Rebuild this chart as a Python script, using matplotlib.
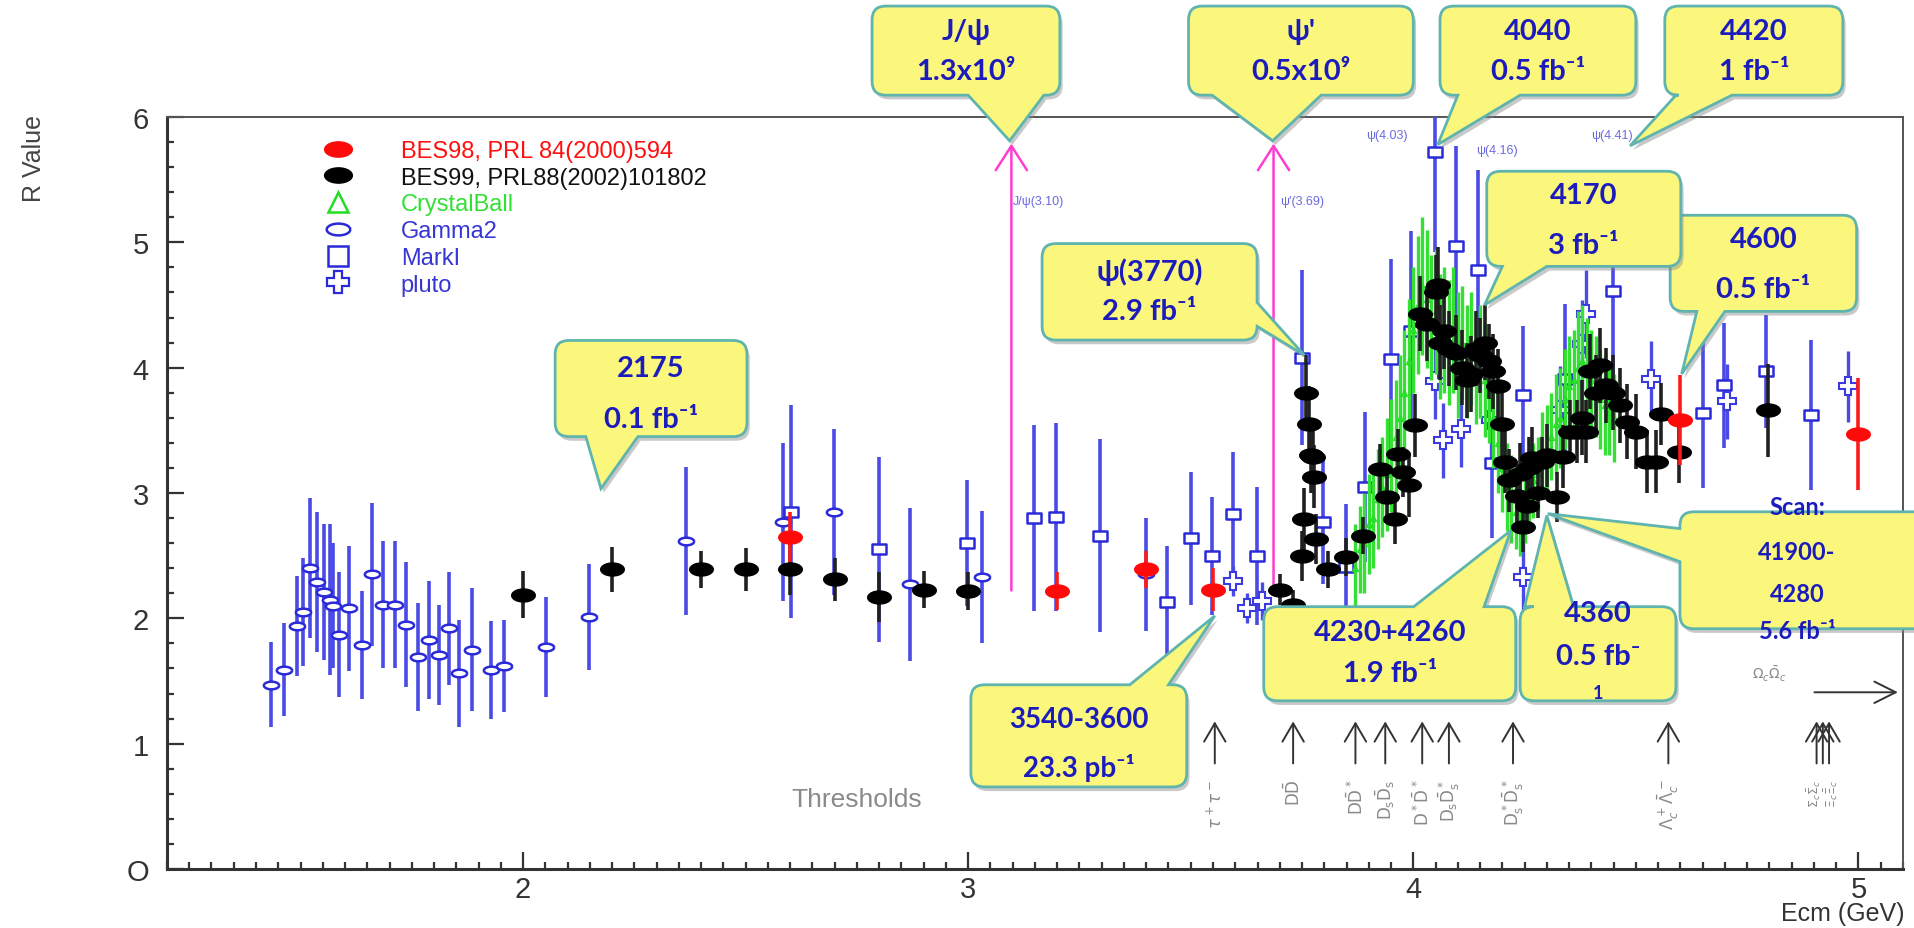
import numpy as np
import matplotlib
matplotlib.use('Agg')
import matplotlib.pyplot as plt
import matplotlib.patheffects as pe
from matplotlib.path import Path
from matplotlib.patches import PathPatch
from matplotlib.lines import Line2D
from matplotlib.ticker import MultipleLocator

plt.rcParams['font.family'] = ['Liberation Sans', 'DejaVu Sans']

# ---- data (Ecm in GeV, R, error) ----
bes98_e = [2.60, 3.20, 3.40, 3.55, 4.60, 5.00]
bes98_r = [2.65, 2.22, 2.39, 2.23, 3.58, 3.47]
bes98_err = [0.20, 0.15, 0.15, 0.17, 0.36, 0.45]

bes99_e = [2.00, 2.20, 2.40, 2.50, 2.60, 2.70, 2.80, 2.90, 3.00,
           3.70, 3.73, 3.749, 3.754, 3.760, 3.766, 3.771, 3.775, 3.778, 3.781,
           3.809, 3.848, 3.888, 3.925, 3.940, 3.958, 3.966, 3.977, 3.990, 4.004,
           4.015, 4.030, 4.050, 4.056, 4.060, 4.070, 4.080, 4.097, 4.110, 4.120,
           4.130, 4.140, 4.150, 4.160, 4.170, 4.180, 4.190, 4.200, 4.206, 4.215,
           4.232, 4.240, 4.247, 4.255, 4.260, 4.267, 4.280, 4.290, 4.300, 4.322,
           4.337, 4.352, 4.367, 4.380, 4.389, 4.397, 4.410, 4.419, 4.434, 4.449,
           4.464, 4.479, 4.501, 4.524, 4.546, 4.557, 4.598, 4.797]
bes99_r = [2.19, 2.39, 2.39, 2.39, 2.39, 2.31, 2.17, 2.23, 2.22,
           2.23, 2.11, 2.50, 2.79, 3.80, 3.55, 3.30, 3.29, 3.13, 2.63,
           2.39, 2.49, 2.66, 3.19, 2.97, 2.79, 3.31, 3.17, 3.06, 3.54,
           4.43, 4.35, 4.60, 4.66, 4.20, 4.29, 4.15, 4.12, 4.00, 3.90,
           3.95, 4.15, 4.10, 4.20, 4.05, 3.97, 3.85, 3.55, 3.25, 3.10,
           2.98, 3.15, 2.73, 2.90, 3.20, 3.28, 3.00, 3.25, 3.30, 2.97,
           3.29, 3.49, 3.49, 3.60, 3.49, 3.97, 3.80, 4.02, 3.86, 3.80,
           3.70, 3.57, 3.49, 3.25, 3.25, 3.63, 3.33, 3.66]
bes99_err = [0.19, 0.18, 0.15, 0.17, 0.20, 0.17, 0.20, 0.15, 0.15,
             0.12, 0.12, 0.20, 0.25, 0.30, 0.30, 0.30, 0.25, 0.25, 0.20,
             0.15, 0.15, 0.15, 0.20, 0.20, 0.20, 0.20, 0.20, 0.25, 0.25,
             0.30, 0.30, 0.30, 0.30, 0.30, 0.30, 0.30, 0.30, 0.30, 0.30,
             0.30, 0.30, 0.30, 0.30, 0.30, 0.30, 0.30, 0.30, 0.25, 0.25,
             0.25, 0.25, 0.20, 0.20, 0.25, 0.25, 0.20, 0.20, 0.25, 0.20,
             0.25, 0.25, 0.25, 0.30, 0.25, 0.30, 0.30, 0.30, 0.30, 0.30,
             0.30, 0.30, 0.30, 0.25, 0.25, 0.25, 0.25, 0.37]

cball_e = [3.87, 3.88, 3.89, 3.90, 3.91, 3.92, 3.93, 3.94, 3.95, 3.96,
           3.97, 3.98, 3.99, 4.00, 4.01, 4.02, 4.03, 4.04, 4.05, 4.06,
           4.07, 4.08, 4.09, 4.10, 4.11, 4.12, 4.13, 4.14, 4.15, 4.16,
           4.17, 4.18, 4.19, 4.20, 4.21, 4.22, 4.23, 4.24, 4.25, 4.26,
           4.27, 4.28, 4.29, 4.30, 4.31, 4.32, 4.33, 4.34, 4.35, 4.36,
           4.37, 4.38, 4.39, 4.40, 4.41, 4.42, 4.43, 4.44, 4.45]
cball_r = [2.40, 2.55, 2.60, 2.75, 2.80, 2.95, 3.05, 3.15, 3.30, 3.45,
           3.60, 3.80, 4.05, 4.30, 4.50, 4.65, 4.55, 4.40, 4.45, 4.25,
           4.30, 4.20, 4.30, 4.10, 4.20, 4.05, 4.15, 4.00, 4.05, 3.90,
           3.80, 3.60, 3.40, 3.20, 3.05, 2.95, 2.85, 2.80, 2.90, 3.00,
           3.10, 3.15, 3.30, 3.35, 3.45, 3.55, 3.60, 3.75, 3.85, 3.90,
           4.00, 4.05, 3.95, 3.90, 3.85, 3.75, 3.70, 3.65, 3.60]
cball_err = [0.35, 0.35, 0.40, 0.40, 0.40, 0.40, 0.40, 0.45, 0.45, 0.45,
             0.50, 0.50, 0.50, 0.50, 0.55, 0.55, 0.55, 0.50, 0.50, 0.50,
             0.50, 0.50, 0.50, 0.50, 0.45, 0.45, 0.45, 0.45, 0.45, 0.45,
             0.40, 0.40, 0.40, 0.35, 0.35, 0.35, 0.30, 0.30, 0.30, 0.30,
             0.30, 0.30, 0.35, 0.35, 0.35, 0.40, 0.40, 0.40, 0.40, 0.40,
             0.45, 0.45, 0.45, 0.40, 0.40, 0.40, 0.40, 0.35, 0.35]

gamma2_e = [1.433, 1.462, 1.491, 1.506, 1.522, 1.538, 1.552, 1.567, 1.574, 1.587,
            1.610, 1.638, 1.661, 1.686, 1.713, 1.737, 1.763, 1.789, 1.810, 1.834,
            1.856, 1.886, 1.927, 1.958, 2.051, 2.149, 2.367, 2.585, 2.698, 2.869,
            3.032, 3.40]
gamma2_r = [1.47, 1.59, 1.94, 2.05, 2.40, 2.29, 2.21, 2.15, 2.10, 1.87,
            2.08, 1.79, 2.35, 2.11, 2.11, 1.95, 1.69, 1.83, 1.71, 1.92,
            1.56, 1.75, 1.59, 1.62, 1.77, 2.01, 2.62, 2.77, 2.85, 2.27,
            2.33, 2.35]
gamma2_err = [0.34, 0.37, 0.40, 0.43, 0.56, 0.56, 0.54, 0.60, 0.50, 0.50,
              0.50, 0.43, 0.57, 0.51, 0.51, 0.50, 0.43, 0.47, 0.40, 0.45,
              0.43, 0.49, 0.39, 0.37, 0.40, 0.42, 0.59, 0.63, 0.66, 0.61,
              0.53, 0.45]

marki_e = [2.601, 2.80, 2.997, 3.148, 3.198, 3.297, 3.447, 3.50, 3.548, 3.595,
           3.649, 3.749, 3.797, 3.848, 3.891, 3.949, 3.994, 4.049, 4.096, 4.145,
           4.176, 4.247, 4.341, 4.449, 4.65, 4.697, 4.793, 4.894]
marki_r = [2.85, 2.55, 2.60, 2.80, 2.81, 2.66, 2.13, 2.64, 2.50, 2.83,
           2.50, 4.08, 2.77, 2.41, 3.05, 4.07, 4.29, 5.72, 4.97, 4.78,
           3.24, 3.78, 3.91, 4.61, 3.64, 3.86, 3.97, 3.62]
marki_err = [0.85, 0.74, 0.50, 0.74, 0.75, 0.77, 0.45, 0.53, 0.47, 0.50,
             0.55, 0.70, 0.50, 0.50, 0.60, 0.80, 0.80, 0.80, 0.80, 0.80,
             0.60, 0.55, 0.60, 0.70, 0.60, 0.50, 0.45, 0.60]

pluto_e = [3.595, 3.627, 3.659, 4.049, 4.067, 4.108, 4.175, 4.247, 4.329, 4.378,
           4.389, 4.535, 4.704, 4.977]
pluto_r = [2.30, 2.08, 2.14, 3.89, 3.42, 3.51, 3.58, 2.33, 3.66, 4.19,
           4.43, 3.91, 3.73, 3.85]
pluto_err = [0.12, 0.12, 0.15, 0.30, 0.30, 0.30, 0.30, 0.50, 0.35, 0.35,
             0.35, 0.30, 0.30, 0.28]

threshold_e = [3.554, 3.730, 3.870, 3.937, 4.020, 4.080, 4.224, 4.573, 4.906, 4.920, 4.934]
threshold_labels = [r'$\tau^+\tau^-$', r'$\mathrm{D\bar{D}}$', r'$\mathrm{D\bar{D}^*}$',
                    r'$\mathrm{D_s\bar{D}_s}$', r'$\mathrm{D^*\bar{D}^*}$', r'$\mathrm{D_s\bar{D}_s^*}$',
                    r'$\mathrm{D_s^*\bar{D}_s^*}$', r'$\Lambda_c^+\bar{\Lambda}_c^-$',
                    '', '$\\Sigma_c\\bar{\\Sigma}_c$\n$\\Xi_c\\bar{\\Xi}_c$', '']

resonance_e = [3.097, 3.686]

YELLOW = '#fbf77c'
EDGE = '#5fb4ae'
TXT = '#1c1cbc'
BLUE = '#4a4ae6'


def ellipse_marker(ratio):
    t = np.linspace(0, 2 * np.pi, 41)
    return Path(np.column_stack([np.cos(t), ratio * np.sin(t)]))


def rect_marker(ratio):
    v = [(-1, -ratio), (1, -ratio), (1, ratio), (-1, ratio), (-1, -ratio)]
    return Path(v, [Path.MOVETO, Path.LINETO, Path.LINETO, Path.LINETO, Path.CLOSEPOLY])


def bubble_path(box, side, base, tip, rx=0.031, ry=0.11):
    x0, x1, y0, y1 = box
    verts = [(x0 + rx, y0)]
    codes = [Path.MOVETO]

    def line(p):
        verts.append(p)
        codes.append(Path.LINETO)

    def corner(c, p):
        verts.extend([c, p])
        codes.extend([Path.CURVE3, Path.CURVE3])

    if side == 'bottom':
        line((base[0], y0)); line(tip); line((base[1], y0))
    line((x1 - rx, y0)); corner((x1, y0), (x1, y0 + ry))
    if side == 'right':
        line((x1, base[0])); line(tip); line((x1, base[1]))
    line((x1, y1 - ry)); corner((x1, y1), (x1 - rx, y1))
    if side == 'top':
        line((base[1], y1)); line(tip); line((base[0], y1))
    line((x0 + rx, y1)); corner((x0, y1), (x0, y1 - ry))
    if side == 'left':
        line((x0, base[1])); line(tip); line((x0, base[0]))
    line((x0, y0 + ry)); corner((x0, y0), (x0 + rx, y0))
    verts.append((x0 + rx, y0))
    codes.append(Path.CLOSEPOLY)
    return Path(verts, codes)


def callout(ax, box, side, base, tip, lines, tx=None):
    patch = PathPatch(bubble_path(box, side, base, tip), facecolor=YELLOW, edgecolor=EDGE,
                      lw=2, clip_on=False, zorder=10)
    patch.set_path_effects([pe.withSimplePatchShadow(offset=(2, -3), shadow_rgbFace='#888888', alpha=0.45)])
    ax.add_patch(patch)
    if tx is None:
        tx = (box[0] + box[1]) / 2
    for text, y, size in lines:
        ax.text(tx, y, text, ha='center', va='center', fontsize=size, fontweight='bold',
                color=TXT, family=['Lato', 'DejaVu Sans'], zorder=11, clip_on=False)


def main():
    fig = plt.figure(figsize=(19.15, 9.29), dpi=100)
    ax = fig.add_axes([0.0872, 0.0635, 0.9065, 0.8095])
    ax.set_xlim(1.2, 5.10)
    ax.set_ylim(0, 6)

    ell = ellipse_marker(0.55)
    ell_small = ellipse_marker(0.5)
    rect = rect_marker(0.65)

    # blue data sets
    ax.errorbar(gamma2_e, gamma2_r, yerr=gamma2_err, ls='none', marker=ell_small, ms=11,
                mfc='white', mec='#2a2ad8', mew=1.8, ecolor=BLUE, elinewidth=2.6, zorder=3)
    ax.errorbar(marki_e, marki_r, yerr=marki_err, ls='none', marker=rect, ms=10,
                mfc='white', mec='#2a2ad8', mew=1.8, ecolor=BLUE, elinewidth=2.6, zorder=3)
    ax.errorbar(pluto_e, pluto_r, yerr=pluto_err, ls='none', marker='P', ms=13,
                mfc='white', mec='#3a3ae0', mew=1.5, ecolor=BLUE, elinewidth=2.4, zorder=3)
    # crystal ball
    ax.errorbar(cball_e, cball_r, yerr=cball_err, ls='none', marker='^', ms=4,
                mfc='none', mec='#22dd22', ecolor='#33e033', elinewidth=2.4, zorder=4)
    # BES
    ax.errorbar(bes99_e, bes99_r, yerr=bes99_err, ls='none', marker=ell, ms=17,
                color='black', ecolor='#202020', elinewidth=2.6, zorder=5)
    ax.errorbar(bes98_e, bes98_r, yerr=bes98_err, ls='none', marker=ell, ms=17,
                color='#ff0a0a', ecolor='#ff1a1a', elinewidth=2.6, zorder=6)

    # J/psi and psi' arrows
    for e in resonance_e:
        ax.annotate('', xy=(e, 5.81), xytext=(e, 2.2),
                    arrowprops=dict(arrowstyle='->,head_length=0.7,head_width=0.45',
                                    color='#ff3dd0', lw=1.8, mutation_scale=25), zorder=2)
    small = dict(fontsize=9, color='#6a6ae0', zorder=2)
    ax.text(3.10, 5.33, "J/ψ(3.10)", ha='left', va='center', **small)
    ax.text(3.70, 5.33, "ψ'(3.69)", ha='left', va='center', **small)
    ax.text(3.894, 5.86, "ψ(4.03)", ha='left', va='center', **small)
    ax.text(4.14, 5.74, "ψ(4.16)", ha='left', va='center', **small)
    ax.text(4.40, 5.86, "ψ(4.41)", ha='left', va='center', **small)

    # thresholds
    for e in threshold_e:
        ax.annotate('', xy=(e, 1.2), xytext=(e, 0.82),
                    arrowprops=dict(arrowstyle='->,head_length=0.6,head_width=0.35',
                                    color='#333333', lw=1.4, mutation_scale=22))
    for e, lab in zip(threshold_e, threshold_labels):
        if lab:
            size = 9 if e > 4.8 else 12
            ax.text(e, 0.72, lab, rotation=90, ha='center', va='top', fontsize=size,
                    color='#8a8a8a', linespacing=1.0)
    ax.text(2.75, 0.56, 'Thresholds', ha='center', va='center', fontsize=19, color='#8a8a8a')
    ax.annotate('', xy=(5.095, 1.41), xytext=(4.895, 1.41),
                arrowprops=dict(arrowstyle='->,head_length=0.7,head_width=0.35',
                                color='#333333', lw=1.4, mutation_scale=22))
    ax.text(4.80, 1.56, r'$\Omega_c\bar{\Omega}_c$', ha='center', va='center', fontsize=10, color='#8a8a8a')

    # legend
    handles = [
        Line2D([], [], ls='none', marker=ell, ms=20, color='#ff0a0a'),
        Line2D([], [], ls='none', marker=ell, ms=20, color='black'),
        Line2D([], [], ls='none', marker='^', ms=15, mfc='none', mec='#22dd22', mew=1.8),
        Line2D([], [], ls='none', marker=ell_small, ms=17, mfc='none', mec='#2a2ad8', mew=1.8),
        Line2D([], [], ls='none', marker='s', ms=14, mfc='none', mec='#2a2ad8', mew=1.8),
        Line2D([], [], ls='none', marker='P', ms=16, mfc='none', mec='#2a2ad8', mew=1.6),
    ]
    labels = ['BES98, PRL 84(2000)594', 'BES99, PRL88(2002)101802', 'CrystalBall',
              'Gamma2', 'MarkI', 'pluto']
    colors = ['#ff1010', '#111111', '#33e033', '#3636d6', '#3636d6', '#3636d6']
    leg = ax.legend(handles, labels, loc='upper left', bbox_to_anchor=(0.083, 0.982),
                    frameon=False, fontsize=17, labelspacing=0.2, handletextpad=1.9,
                    borderaxespad=0, handlelength=1.5)
    for t, c in zip(leg.get_texts(), colors):
        t.set_color(c)

    # callouts
    callout(ax, (2.784, 3.206, 6.174, 6.885), 'bottom', (3.00, 3.17), (3.093, 5.81),
            [('J/ψ', 6.69, 21), ('1.3x10⁹', 6.37, 21)])
    callout(ax, (3.495, 4.00, 6.174, 6.885), 'bottom', (3.548, 3.793), (3.684, 5.81),
            [("ψ'", 6.69, 21), ('0.5x10⁹', 6.37, 21)])
    callout(ax, (4.06, 4.50, 6.174, 6.885), 'bottom', (4.10, 4.24), (4.055, 5.78),
            [('4040', 6.69, 21), ('0.5 fb⁻¹', 6.37, 21)])
    callout(ax, (4.565, 4.965, 6.174, 6.885), 'bottom', (4.59, 4.716), (4.487, 5.77),
            [('4420', 6.69, 21), ('1 fb⁻¹', 6.37, 21)])
    callout(ax, (3.166, 3.649, 4.22, 4.99), 'right', (4.33, 4.52), (3.755, 4.10),
            [('ψ(3770)', 4.77, 21), ('2.9 fb⁻¹', 4.45, 21)])
    callout(ax, (4.577, 4.996, 4.449, 5.216), 'bottom', (4.637, 4.70), (4.603, 3.95),
            [('4600', 5.03, 21), ('0.5 fb⁻¹', 4.63, 21)])
    callout(ax, (4.165, 4.601, 4.808, 5.567), 'bottom', (4.20, 4.30), (4.16, 4.50),
            [('4170', 5.38, 21), ('3 fb⁻¹', 4.98, 21)])
    callout(ax, (2.072, 2.503, 3.45, 4.217), 'bottom', (2.141, 2.258), (2.175, 3.035),
            [('2175', 4.00, 21), ('0.1 fb⁻¹', 3.59, 21)])
    callout(ax, (3.006, 3.491, 0.655, 1.47), 'top', (3.363, 3.45), (3.554, 2.02),
            [('3540-3600', 1.20, 20), ('23.3 pb⁻¹', 0.81, 20)])
    callout(ax, (3.664, 4.23, 1.342, 2.093), 'top', (4.001, 4.159), (4.219, 2.70),
            [('4230+4260', 1.89, 21), ('1.9 fb⁻¹', 1.56, 21)])
    callout(ax, (4.24, 4.59, 1.342, 2.093), 'top', (4.25, 4.36), (4.30, 2.82),
            [('4360', 2.04, 21), ('0.5 fb⁻', 1.70, 21), ('1', 1.41, 13)])
    callout(ax, (4.599, 5.25, 1.917, 2.85), 'left', (2.452, 2.716), (4.302, 2.835),
            [('Scan:', 2.89, 17), ('41900-', 2.53, 17), ('4280', 2.20, 17), ('5.6 fb⁻¹', 1.90, 17)],
            tx=4.862)

    # axes styling
    ax.set_xticks([2, 3, 4, 5])
    ax.set_yticks([0, 1, 2, 3, 4, 5, 6])
    ax.set_yticklabels(['O', '1', '2', '3', '4', '5', '6'])
    ax.xaxis.set_minor_locator(MultipleLocator(0.05))
    ax.yaxis.set_minor_locator(MultipleLocator(0.2))
    ax.tick_params(which='both', direction='in', top=False, right=False, colors='#333333',
                   labelsize=21, width=1.6)
    ax.tick_params(which='major', length=12)
    ax.tick_params(which='minor', length=5)
    ax.tick_params(axis='x', pad=4)
    ax.tick_params(axis='y', pad=13)
    for s in ['left', 'bottom']:
        ax.spines[s].set_linewidth(2.2)
        ax.spines[s].set_color('#333333')
    for s in ['top', 'right']:
        ax.spines[s].set_linewidth(1.4)
        ax.spines[s].set_color('#555555')

    fig.text(34 / 1915, 1 - 158 / 929, 'R Value', rotation=90, ha='center', va='center',
             fontsize=18, color='#444444')
    fig.text(1905 / 1915, 1 - 914 / 929, 'Ecm (GeV)', ha='right', va='center',
             fontsize=18, color='#333333')

    fig.savefig('out.png', dpi=100)


if __name__ == '__main__':
    main()
